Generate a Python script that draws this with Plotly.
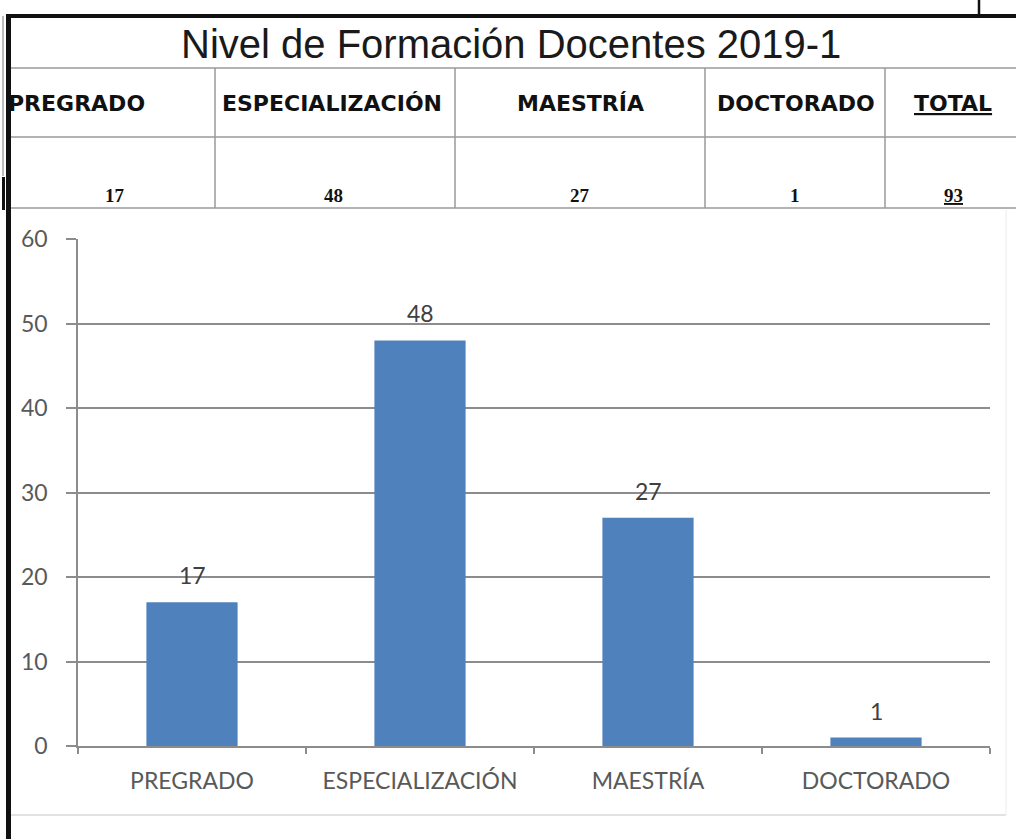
import plotly.graph_objects as go

# ---- data ----
categories = ["PREGRADO", "ESPECIALIZACIÓN", "MAESTRÍA", "DOCTORADO"]
docentes = [17, 48, 27, 1]
total_label = "TOTAL"
total_value = sum(docentes)  # 93
y_ticks = [0, 10, 20, 30, 40, 50, 60]
title_text = "Nivel de Formación Docentes 2019-1"

W, H = 1016, 839


def px(x):
    return x / W


def py(y):
    return 1 - y / H


BAR = "#4F81BD"
GRID = "#8c8c8c"
TXT = "#595959"
CHART_FONT = "Lato, Carlito, sans-serif"

fig = go.Figure()
fig.add_trace(go.Bar(
    x=categories, y=docentes, marker=dict(color=BAR, line=dict(width=0)),
    width=0.4, showlegend=False, hoverinfo="x+y",
))

# value labels above bars
for c, v in zip(categories, docentes):
    fig.add_annotation(x=c, y=v, xref="x", yref="y", text=str(v), showarrow=False,
                       yshift=27, yanchor="middle",
                       font=dict(family=CHART_FONT, size=23, color="#404040"))

shapes = []
line_grey = dict(color="#9a9a9a", width=1.5)
# table horizontal lines
for yy in [68, 137, 208]:
    shapes.append(dict(type="line", xref="paper", yref="paper", x0=px(8), x1=1, y0=py(yy), y1=py(yy), line=line_grey))
# table vertical lines
for xx in [215, 455, 705, 885]:
    shapes.append(dict(type="line", xref="paper", yref="paper", x0=px(xx), x1=px(xx), y0=py(68), y1=py(208), line=line_grey))
# chart frame (light)
shapes.append(dict(type="line", xref="paper", yref="paper", x0=px(10), x1=px(1006), y0=py(815), y1=py(815), line=dict(color="#d9d9d9", width=1.5)))
shapes.append(dict(type="line", xref="paper", yref="paper", x0=px(1006), x1=px(1006), y0=py(210), y1=py(815), line=dict(color="#ececec", width=1)))
# black borders
shapes.append(dict(type="line", xref="paper", yref="paper", x0=px(6), x1=1, y0=py(16), y1=py(16), line=dict(color="#111111", width=4)))
shapes.append(dict(type="line", xref="paper", yref="paper", x0=px(8.5), x1=px(8.5), y0=py(14), y1=0, line=dict(color="#111111", width=5)))
shapes.append(dict(type="line", xref="paper", yref="paper", x0=px(979), x1=px(979), y0=1, y1=py(16), line=dict(color="#111111", width=2.5)))
shapes.append(dict(type="line", xref="paper", yref="paper", x0=px(3), x1=px(3), y0=py(16), y1=py(176), line=dict(color="#bdbdbd", width=2)))
shapes.append(dict(type="line", xref="paper", yref="paper", x0=px(3.5), x1=px(3.5), y0=py(177), y1=py(210), line=dict(color="#111111", width=3)))

# table text
ann = []
ann.append(dict(x=px(511), y=py(44), xref="paper", yref="paper", text=title_text, showarrow=False,
                xanchor="center", yanchor="middle",
                font=dict(family="Liberation Sans, Arial, sans-serif", size=40, color="#1a1a1a")))
head_x = [None, 332, 580, 796]
val_x = [115, 333, 580, 795]
hfont = dict(family="DejaVu Sans, sans-serif", size=22, color="#111111")
vfont = dict(family="Liberation Serif, serif", size=19, color="#111111")
for i, c in enumerate(categories):
    if i == 0:
        ann.append(dict(x=px(6), y=py(103), xref="paper", yref="paper", text=f"<b>{c}</b>", showarrow=False,
                        xanchor="left", yanchor="middle", font=hfont))
    else:
        ann.append(dict(x=px(head_x[i]), y=py(103), xref="paper", yref="paper", text=f"<b>{c}</b>", showarrow=False,
                        xanchor="center", yanchor="middle", font=hfont))
    ann.append(dict(x=px(val_x[i]), y=py(195), xref="paper", yref="paper", text=f"<b>{docentes[i]}</b>", showarrow=False,
                    xanchor="center", yanchor="middle", font=vfont))
ann.append(dict(x=px(953), y=py(103), xref="paper", yref="paper", text=f"<b><u>{total_label}</u></b>", showarrow=False,
                xanchor="center", yanchor="middle", font=hfont))
ann.append(dict(x=px(953), y=py(195), xref="paper", yref="paper", text=f"<b><u>{total_value}</u></b>", showarrow=False,
                xanchor="center", yanchor="middle", font=vfont))
for a in ann:
    fig.add_annotation(**a)

fig.update_layout(
    width=W, height=H, margin=dict(l=0, r=0, t=0, b=0, pad=0, autoexpand=False),
    paper_bgcolor="white", plot_bgcolor="white",
    shapes=shapes, showlegend=False, bargap=0.6,
    xaxis=dict(domain=[px(78), px(990)], range=[-0.5, 3.5], type="category",
               automargin=False,
               showline=True, linecolor=GRID, linewidth=1.5,
               ticks="outside", tickson="boundaries", ticklen=6, tickcolor=GRID, tickwidth=1.5,
               showgrid=False, ticklabelstandoff=14,
               tickfont=dict(family=CHART_FONT, size=23, color=TXT)),
    yaxis=dict(domain=[py(746), py(239)], range=[0, 60], tickvals=y_ticks,
               automargin=False,
               showline=True, linecolor=GRID, linewidth=1.5,
               showgrid=True, gridcolor=GRID, gridwidth=1.5, zeroline=False,
               ticks="outside", ticklen=10, tickcolor=GRID, tickwidth=1.5,
               ticklabelstandoff=14,
               tickfont=dict(family=CHART_FONT, size=23, color=TXT)),
)

fig.write_html(
    "out.html",
    config={"displayModeBar": False},
    post_script="document.body.style.margin='0';document.body.style.overflow='hidden';",
)
